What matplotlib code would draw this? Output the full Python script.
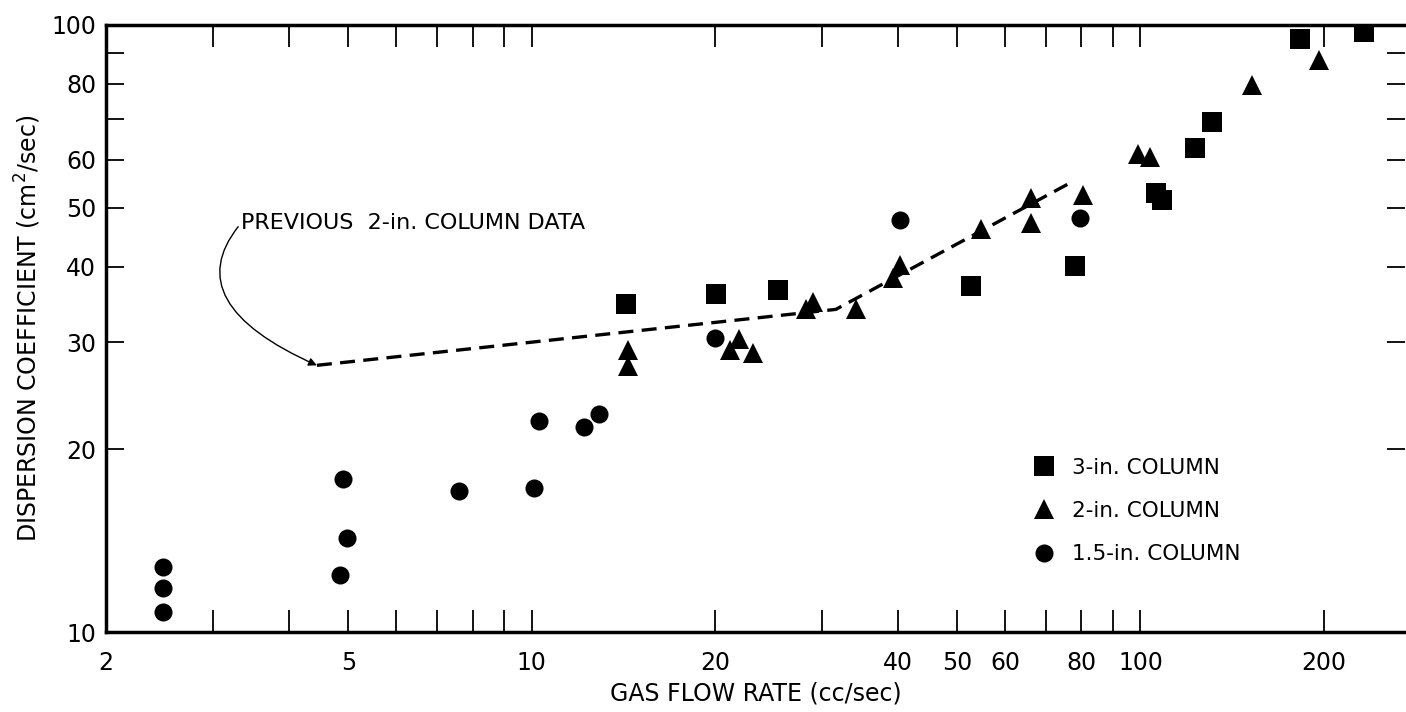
import matplotlib
matplotlib.use("Agg")
import matplotlib.pyplot as plt
from matplotlib.lines import Line2D

plt.rcParams['font.family'] = ['DejaVu Sans']

# 3-in. column (squares)
sq_x = [14.3, 20.1, 25.4, 52.6, 78.2, 105.9, 108.6, 122.8, 131.3, 182.8, 232.8]
sq_y = [34.7, 36.1, 36.6, 37.1, 40.1, 52.9, 51.4, 62.8, 69.3, 94.8, 97.3]

# 2-in. column (triangles)
tri_x = [14.4, 14.4, 21.2, 21.9, 23.1, 28.2, 29.0, 34.1, 39.3, 40.3,
         54.7, 66.1, 66.1, 80.4, 99.2, 103.5, 152.6, 196.4]
tri_y = [29.2, 27.4, 29.1, 30.4, 28.8, 34.0, 35.0, 34.1, 38.3, 40.3,
         46.1, 51.8, 47.1, 52.4, 61.4, 60.6, 79.6, 87.5]

# 1.5-in. column (circles)
cir_x = [2.48, 2.48, 2.48, 4.84, 4.98, 4.9, 7.59, 10.08, 10.27, 12.2, 12.9,
         20.0, 40.3, 79.7]
cir_y = [12.8, 11.8, 10.8, 12.4, 14.3, 17.9, 17.1, 17.3, 22.3, 21.8, 22.9,
         30.5, 47.7, 48.0]

# previous 2-in. column data (dashed line)
prev_x = [4.44, 31.6, 76.3]
prev_y = [27.5, 34.0, 54.8]

x_ticks = [2, 3, 4, 5, 6, 7, 8, 9, 10, 20, 30, 40, 50, 60, 70, 80, 90, 100, 200]
x_labels = ['2', '', '', '5', '', '', '', '', '10', '20', '', '40', '50', '60',
            '', '80', '', '100', '200']
y_ticks = [10, 20, 30, 40, 50, 60, 70, 80, 90, 100]
y_labels = ['10', '20', '30', '40', '50', '60', '', '80', '', '100']

W, H = 1406, 712
fig = plt.figure(figsize=(W / 100, H / 100), dpi=100)
ax = fig.add_axes([106 / W, 1 - 632 / H, (1405 - 106) / W, (632 - 25) / H])

ax.set_xscale('log')
ax.set_yscale('log')
ax.set_xlim(2, 272)
ax.set_ylim(10, 100)

ax.plot(prev_x, prev_y, color='black', lw=2.4, ls=(0, (4.5, 2.5)))
ax.plot(sq_x, sq_y, 's', color='black', ms=15, mew=0)
ax.plot(tri_x, tri_y, '^', color='black', ms=15, mew=0)
ax.plot(cir_x, cir_y, 'o', color='black', ms=13, mew=0)

ax.annotate('PREVIOUS  2-in. COLUMN DATA', xy=(4.44, 27.5), xytext=(3.33, 47.1),
            fontsize=16, va='center', ha='left',
            arrowprops=dict(arrowstyle='-|>', color='black', lw=1,
                            connectionstyle='angle3,angleA=50,angleB=-24',
                            relpos=(0, 0.5), patchA=None,
                            mutation_scale=12, shrinkA=3, shrinkB=0))

ax.xaxis.set_major_locator(plt.FixedLocator(x_ticks))
ax.xaxis.set_major_formatter(plt.FixedFormatter(x_labels))
ax.xaxis.set_minor_locator(plt.NullLocator())
ax.yaxis.set_major_locator(plt.FixedLocator(y_ticks))
ax.yaxis.set_major_formatter(plt.FixedFormatter(y_labels))
ax.yaxis.set_minor_locator(plt.NullLocator())

ax.tick_params(axis='both', which='major', direction='in', length=16, width=1.3,
               labelsize=17, top=True, right=True, pad=14)
ax.tick_params(axis='y', length=13, pad=7)
for side in ['left', 'bottom', 'top']:
    ax.spines[side].set_linewidth(2.5)
ax.spines['right'].set_visible(False)

ax.set_xlabel('GAS FLOW RATE (cc/sec)', fontsize=17, labelpad=4)
ax.set_ylabel('DISPERSION COEFFICIENT (cm$^2$/sec)', fontsize=17, labelpad=6)

handles = [Line2D([], [], ls='none', marker='s', color='black', ms=15, mew=0),
           Line2D([], [], ls='none', marker='^', color='black', ms=15, mew=0),
           Line2D([], [], ls='none', marker='o', color='black', ms=13, mew=0)]
ax.legend(handles, ['3-in. COLUMN', '2-in. COLUMN', '1.5-in. COLUMN'],
          loc='upper left', bbox_to_anchor=(0.6976, 0.319), frameon=False,
          fontsize=15.5, labelspacing=1.08, handletextpad=0.7, handlelength=1.2)

fig.savefig('out.png', dpi=100)
